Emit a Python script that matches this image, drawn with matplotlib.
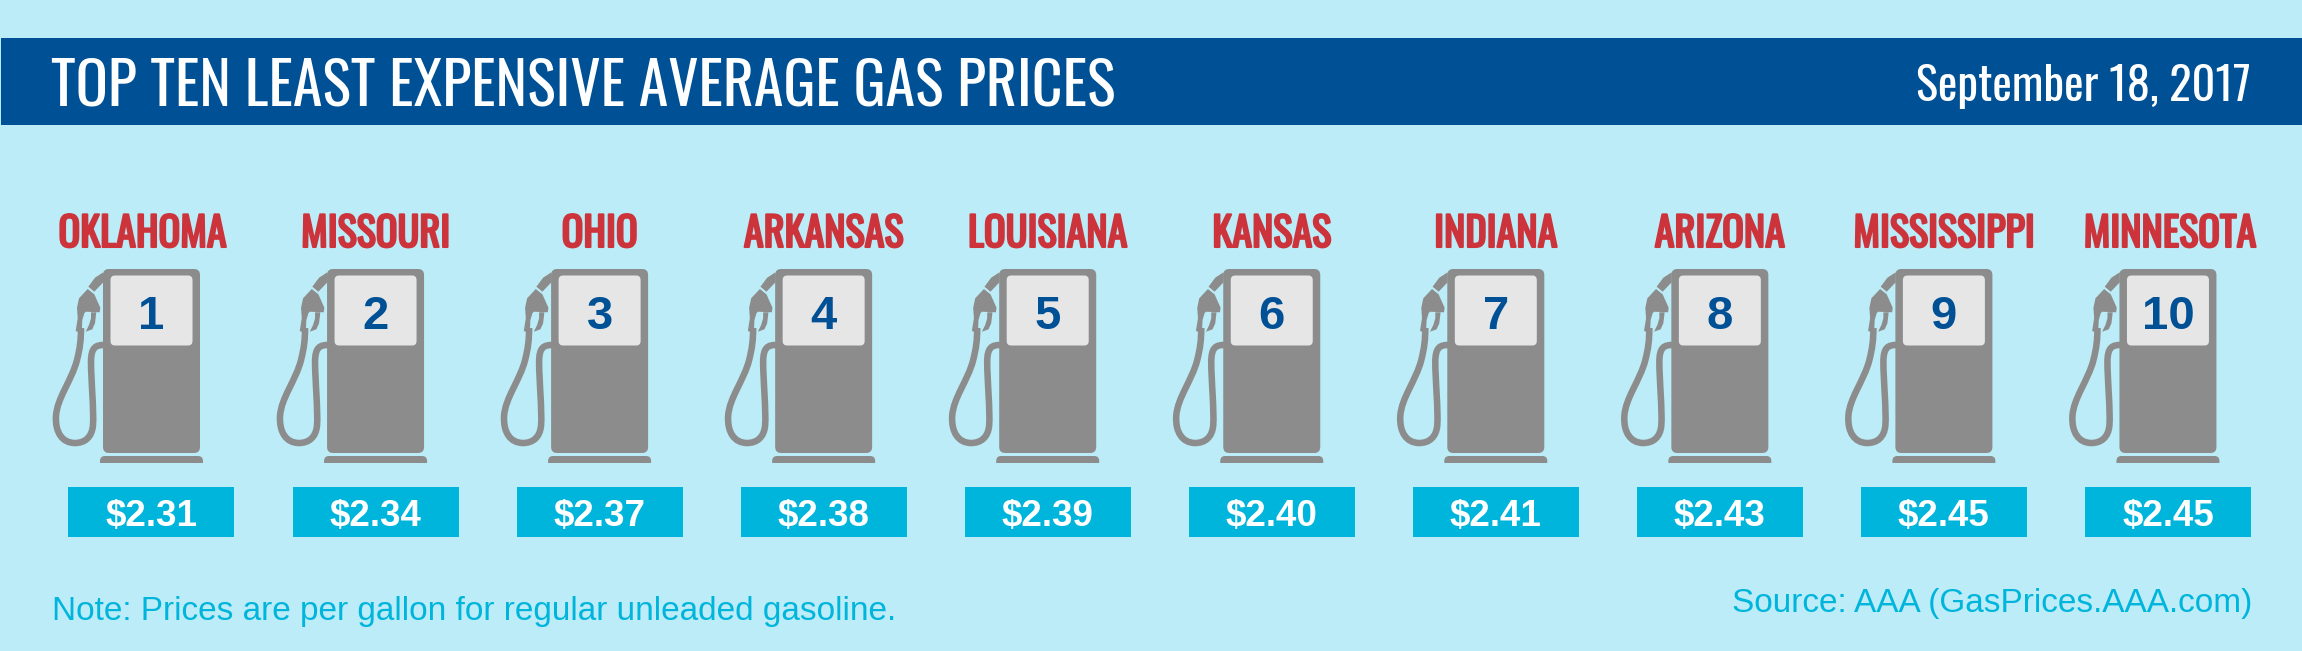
import numpy as np
import matplotlib
matplotlib.use('Agg')
import matplotlib.pyplot as plt
import matplotlib.patheffects as pe
from matplotlib.patches import FancyBboxPatch, PathPatch, Polygon, Rectangle
from matplotlib.path import Path

# Data
states = ['OKLAHOMA', 'MISSOURI', 'OHIO', 'ARKANSAS', 'LOUISIANA',
          'KANSAS', 'INDIANA', 'ARIZONA', 'MISSISSIPPI', 'MINNESOTA']
ranks = [1, 2, 3, 4, 5, 6, 7, 8, 9, 10]
prices = [2.31, 2.34, 2.37, 2.38, 2.39, 2.40, 2.41, 2.43, 2.45, 2.45]
label_shift = [-9, 0, 0, 0, 0, 0, 0, 0, 0, 2]

BG = '#BBECF7'
NAVY = '#005095'
CYAN = '#00B5DC'
RED = '#CC333B'
GREY = '#8C8C8C'
SCREEN = '#E6E6E6'

HEAD_FONT = ['Oswald', 'Liberation Sans']
BODY_FONT = ['Liberation Sans', 'DejaVu Sans']

# Pump icon, drawn around x = 0
HOSE = [(-47.5, 345), (-55.5, 345), (-60.5, 347), (-60.5, 362),
        (-60.5, 380), (-57.5, 410), (-58.5, 425),
        (-59.5, 438), (-67.5, 443), (-76.5, 443),
        (-89.5, 443), (-96.5, 432), (-95.5, 416),
        (-94.5, 398), (-79.5, 380), (-74.5, 360),
        (-71.5, 348), (-70.5, 340), (-70.5, 328)]
HOSE_CODES = [Path.MOVETO] + [Path.CURVE4] * 18
HEAD = [(-63.8, 289), (-57.2, 294.3), (-51.2, 307.7), (-51.8, 312.3),
        (-65.8, 311.7), (-67.2, 313.3), (-69.2, 320), (-69.8, 333.3),
        (-75.8, 331), (-73.8, 318.3), (-74.5, 307.7), (-72.5, 298.3)]
TRIGGER = [(-60.5, 312.3), (-55.2, 312.3), (-56.5, 323.3), (-59.2, 329.3),
           (-65.8, 331.7), (-62.5, 325), (-60.5, 318.3)]
PIPE = [(-48.2, 272.3), (-48.2, 282.3), (-57.2, 291.7), (-63.2, 286.7), (-56.5, 277.7)]


def draw_pump(ax, center):
    ax.add_patch(FancyBboxPatch((center - 42.5, 275), 85, 172,
                                boxstyle='round,pad=6,rounding_size=6',
                                fc=GREY, ec='none'))
    ax.add_patch(FancyBboxPatch((center - 49.5, 458), 99, 10,
                                boxstyle='round,pad=2,rounding_size=5',
                                fc=GREY, ec='none'))
    # background strip cuts the base flat at the bottom
    ax.add_patch(Rectangle((center - 53, 463), 106, 10, fc=BG, ec='none'))
    ax.add_patch(FancyBboxPatch((center - 36.5, 280), 73, 61,
                                boxstyle='round,pad=4.5,rounding_size=4.5',
                                fc=SCREEN, ec='none'))
    hose = np.array(HOSE) + [center, 0]
    ax.add_patch(PathPatch(Path(hose, HOSE_CODES), fc='none', ec=GREY, lw=4.7))
    for shape in (HEAD, TRIGGER, PIPE):
        ax.add_patch(Polygon(np.array(shape) + [center, 0], closed=True, fc=GREY, ec='none'))


fig = plt.figure(figsize=(23.02, 6.51), dpi=100, facecolor=BG)
ax = fig.add_axes([0, 0, 1, 1])
ax.set_xlim(0, 2302)
ax.set_ylim(651, 0)
ax.axis('off')

# Header band
ax.add_patch(Rectangle((1, 38), 2301, 87, fc=NAVY, ec='none'))
ax.text(51, 105, 'TOP TEN LEAST EXPENSIVE AVERAGE GAS PRICES', color='white',
        fontsize=43.1, family=HEAD_FONT, va='baseline')
ax.text(2251, 101, 'September 18, 2017', color='white', fontsize=33.4,
        family=HEAD_FONT, ha='right', va='baseline')

# Oswald only comes in its regular weight here, a stroke thickens the state names
thick = [pe.withStroke(linewidth=1.5, foreground=RED)]
centers = 151.5 + 224.05 * np.arange(len(states))
for center, shift, state, rank, price in zip(centers, label_shift, states, ranks, prices):
    ax.text(center + shift, 247, state, color=RED, fontsize=29,
            family=HEAD_FONT, ha='center', va='baseline', path_effects=thick)
    draw_pump(ax, center)
    ax.text(center, 329, str(rank), color=NAVY, fontsize=34, fontweight='bold',
            family=BODY_FONT, ha='center', va='baseline')
    ax.add_patch(Rectangle((center - 83, 487), 166, 50, fc=CYAN, ec='none'))
    ax.text(center, 526, f'${price:.2f}', color='white', fontsize=26.5, fontweight='bold',
            family=BODY_FONT, ha='center', va='baseline')

ax.text(52, 620, 'Note: Prices are per gallon for regular unleaded gasoline.', color=CYAN,
        fontsize=24, family=BODY_FONT, va='baseline')
ax.text(2252, 612, 'Source: AAA (GasPrices.AAA.com)', color=CYAN,
        fontsize=24, family=BODY_FONT, ha='right', va='baseline')

fig.savefig('out.png', dpi=100, facecolor=BG)
